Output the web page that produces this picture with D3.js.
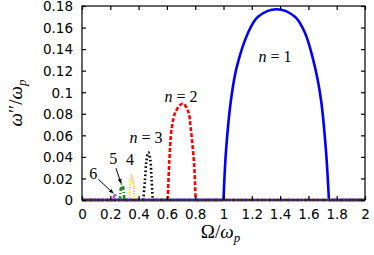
<!DOCTYPE html>
<html>
<head>
<meta charset="utf-8">
<script src="https://cdn.jsdelivr.net/npm/d3@7"></script>
<style>
  body { margin: 0; background: #fff; }
  .tick-label { font-family: 'DejaVu Sans', sans-serif; font-size: 13.5px; fill: #000; }
  .math { font-family: 'Liberation Serif', 'DejaVu Serif', serif; fill: #000; }
</style>
</head>
<body>
<div id="chart"></div>
<script>
// omega'' / omega_p versus Omega / omega_p, one branch per n
const n1 = [[1.0, 0], [1.018, 0.046], [1.053, 0.093], [1.093, 0.123], [1.173, 0.155], [1.244, 0.170], [1.376, 0.177], [1.505, 0.170], [1.576, 0.155], [1.647, 0.123], [1.689, 0.093], [1.724, 0.046], [1.745, 0]]
const n2 = [[0.606, 0], [0.617, 0.0355], [0.634, 0.0665], [0.662, 0.082], [0.712, 0.0895], [0.751, 0.082], [0.768, 0.0665], [0.791, 0.0355], [0.803, 0]]
const n3 = [[0.433, 0], [0.445, 0.0186], [0.455, 0.036], [0.469, 0.0442], [0.482, 0.038], [0.492, 0.0186], [0.50, 0]]
const n4 = [[0.334, 0], [0.342, 0.016], [0.352, 0.023], [0.362, 0.016], [0.370, 0]]
const n5 = [[0.268, 0], [0.275, 0.011], [0.283, 0.0146], [0.292, 0.011], [0.299, 0]]
const n6 = [[0.221, 0], [0.228, 0.0038], [0.233, 0.0046], [0.239, 0.0038], [0.245, 0]]

const xTicks = [0, 0.2, 0.4, 0.6, 0.8, 1, 1.2, 1.4, 1.6, 1.8, 2]
const yTicks = [0, 0.02, 0.04, 0.06, 0.08, 0.1, 0.12, 0.14, 0.16, 0.18]

const margin = { top: 6, right: 9, bottom: 55, left: 82 }
const width = 374 - margin.left - margin.right
const height = 255 - margin.top - margin.bottom

const svg = d3
  .select('#chart')
  .append('svg')
  .attr('width', width + margin.left + margin.right)
  .attr('height', height + margin.top + margin.bottom)
  .append('g')
  .attr('transform', 'translate(' + margin.left + ',' + margin.top + ')')

const xPositionScale = d3.scaleLinear().domain([0, 2]).range([0, width])
const yPositionScale = d3.scaleLinear().domain([0, 0.18]).range([height, 0])

const curveLine = d3
  .line()
  .x(d => xPositionScale(d[0]))
  .y(d => yPositionScale(d[1]))
  .curve(d3.curveCatmullRom.alpha(0.5))

const flatLine = d3
  .line()
  .x(d => xPositionScale(d[0]))
  .y(d => yPositionScale(d[1]))

const series = [
  { data: n1, color: '#0000ff', width: 2.6, dash: null },
  { data: n2, color: '#ff0000', width: 2.6, dash: '4,2' },
  { data: n3, color: '#000000', width: 2.6, dash: '1.6,2.4' },
  { data: n4, color: '#ffbb00', width: 2, dash: '1,1.4' },
  { data: n5, color: '#1e8c1e', width: 2.6, dash: '4,2,1,2' },
  { data: n6, color: '#a066ee', width: 2.6, dash: '7,2' }
]

// each branch also runs along zero over the rest of the range
series.forEach(s => {
  const first = s.data[0]
  const last = s.data[s.data.length - 1]
  const parts = [
    { pts: [[0, 0], first], gen: flatLine },
    { pts: s.data, gen: curveLine },
    { pts: [last, [2, 0]], gen: flatLine }
  ]
  parts.forEach(p => {
    svg
      .append('path')
      .datum(p.pts)
      .attr('d', p.gen)
      .attr('fill', 'none')
      .attr('stroke', s.color)
      .attr('stroke-width', s.width)
      .attr('stroke-dasharray', s.dash)
  })
})

// frame with inward ticks on every side
svg
  .append('rect')
  .attr('width', width)
  .attr('height', height)
  .attr('fill', 'none')
  .attr('stroke', '#000')
  .attr('stroke-width', 1.2)

const xAxis = d3.axisBottom(xPositionScale).tickValues(xTicks).tickSize(-4).tickFormat(d => d)
svg
  .append('g')
  .attr('class', 'axis x-axis')
  .attr('transform', 'translate(0,' + height + ')')
  .call(xAxis)
  .call(g => g.select('.domain').remove())
  .call(g => g.selectAll('text').attr('class', 'tick-label').attr('dy', '1.05em').attr('y', 5))

svg
  .append('g')
  .attr('class', 'axis x-top')
  .call(d3.axisTop(xPositionScale).tickValues(xTicks).tickSize(-4).tickFormat(''))
  .call(g => g.select('.domain').remove())

const yAxis = d3.axisLeft(yPositionScale).tickValues(yTicks).tickSize(-4).tickFormat(d => d)
svg
  .append('g')
  .attr('class', 'axis y-axis')
  .call(yAxis)
  .call(g => g.select('.domain').remove())
  .call(g => g.selectAll('text').attr('class', 'tick-label').attr('x', -9).attr('dy', '0.36em'))

svg
  .append('g')
  .attr('class', 'axis y-right')
  .attr('transform', 'translate(' + width + ',0)')
  .call(d3.axisRight(yPositionScale).tickValues(yTicks).tickSize(-4).tickFormat(''))
  .call(g => g.select('.domain').remove())

svg.selectAll('.tick line').attr('stroke', '#000').attr('stroke-width', 1.2)

// curve labels
const labels = [
  { text: '1', x: 1.364, y: 0.1325 },
  { text: '2', x: 0.70, y: 0.0956 },
  { text: '3', x: 0.452, y: 0.0575 }
]

labels.forEach(l => {
  const t = svg
    .append('text')
    .attr('class', 'math')
    .attr('font-size', 16)
    .attr('text-anchor', 'middle')
    .attr('x', xPositionScale(l.x))
    .attr('y', yPositionScale(l.y))
    .attr('dy', '0.33em')
  t.append('tspan').attr('font-style', 'italic').text('n')
  t.append('tspan').text(' = ' + l.text)
})

const small = [
  { text: '4', x: 0.340, y: 0.0372 },
  { text: '5', x: 0.221, y: 0.0385 },
  { text: '6', x: 0.080, y: 0.0248 }
]

svg
  .selectAll('.small-label')
  .data(small)
  .enter()
  .append('text')
  .attr('class', 'math small-label')
  .attr('font-size', 16)
  .attr('text-anchor', 'middle')
  .attr('x', d => xPositionScale(d.x))
  .attr('y', d => yPositionScale(d.y))
  .attr('dy', '0.33em')
  .text(d => d.text)

svg
  .append('defs')
  .append('marker')
  .attr('id', 'arrow')
  .attr('viewBox', '0 0 10 10')
  .attr('refX', 9)
  .attr('refY', 5)
  .attr('markerWidth', 5)
  .attr('markerHeight', 5)
  .attr('orient', 'auto')
  .append('path')
  .attr('d', 'M0,1 L10,5 L0,9 Z')
  .attr('fill', '#000')

const arrows = [
  { x1: 0.115, y1: 0.0193, x2: 0.221, y2: 0.0063 },
  { x1: 0.240, y1: 0.0295, x2: 0.276, y2: 0.0155 }
]

svg
  .selectAll('.arrow')
  .data(arrows)
  .enter()
  .append('line')
  .attr('class', 'arrow')
  .attr('x1', d => xPositionScale(d.x1))
  .attr('y1', d => yPositionScale(d.y1))
  .attr('x2', d => xPositionScale(d.x2))
  .attr('y2', d => yPositionScale(d.y2))
  .attr('stroke', '#000')
  .attr('stroke-width', 1)
  .attr('marker-end', 'url(#arrow)')

// axis titles
const xTitle = svg
  .append('text')
  .attr('class', 'math')
  .attr('font-size', 19)
  .attr('text-anchor', 'middle')
  .attr('x', width / 2 - 3)
  .attr('y', height + 38)
xTitle.append('tspan').text('Ω/')
xTitle.append('tspan').attr('font-style', 'italic').text('ω')
xTitle.append('tspan').attr('font-style', 'italic').attr('font-size', 13).attr('dy', 4).text('p')

const yTitle = svg
  .append('text')
  .attr('class', 'math')
  .attr('font-size', 19)
  .attr('text-anchor', 'middle')
  .attr('transform', 'translate(' + (-60) + ',' + (103 - margin.top) + ') rotate(-90)')
yTitle.append('tspan').attr('font-style', 'italic').text('ω')
yTitle.append('tspan').text('′′/')
yTitle.append('tspan').attr('font-style', 'italic').text('ω')
yTitle.append('tspan').attr('font-style', 'italic').attr('font-size', 13).attr('dy', 4).text('p')
</script>
</body>
</html>
